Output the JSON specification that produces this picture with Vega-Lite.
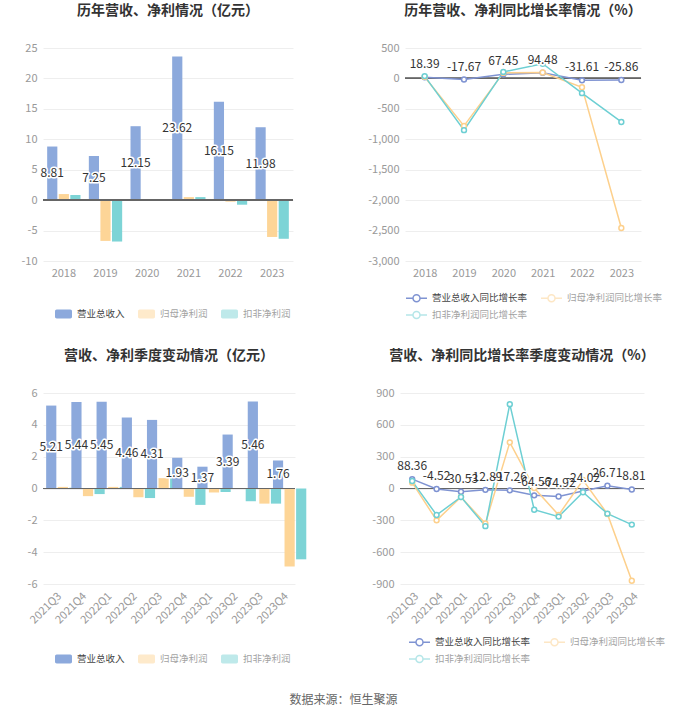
{
  "$schema": "https://vega.github.io/schema/vega-lite/v6.json",
  "background": "white",
  "padding": {"left": 20, "top": 4, "right": 0, "bottom": 0},
  "title": {"text": "数据来源：恒生聚源", "orient": "bottom", "anchor": "middle", "fontSize": 12, "fontWeight": "normal", "color": "#666666", "offset": 29},
  "spacing": 27,
  "resolve": {"scale": {"color": "independent"}, "legend": {"color": "independent"}},
  "vconcat": [
    {
      "hconcat": [
        {
          "width": 250,
          "height": 213,
          "title": {"text": "历年营收、净利情况（亿元）", "offset": 24},
          "data": {"values": [
            {"year": "2018", "series": "营业总收入", "value": 8.81},
            {"year": "2018", "series": "归母净利润", "value": 1.0},
            {"year": "2018", "series": "扣非净利润", "value": 0.85},
            {"year": "2019", "series": "营业总收入", "value": 7.25},
            {"year": "2019", "series": "归母净利润", "value": -6.7},
            {"year": "2019", "series": "扣非净利润", "value": -6.8},
            {"year": "2020", "series": "营业总收入", "value": 12.15},
            {"year": "2020", "series": "归母净利润", "value": 0.12},
            {"year": "2020", "series": "扣非净利润", "value": 0.1},
            {"year": "2021", "series": "营业总收入", "value": 23.62},
            {"year": "2021", "series": "归母净利润", "value": 0.5},
            {"year": "2021", "series": "扣非净利润", "value": 0.5},
            {"year": "2022", "series": "营业总收入", "value": 16.15},
            {"year": "2022", "series": "归母净利润", "value": -0.25},
            {"year": "2022", "series": "扣非净利润", "value": -0.75},
            {"year": "2023", "series": "营业总收入", "value": 11.98},
            {"year": "2023", "series": "归母净利润", "value": -6.05},
            {"year": "2023", "series": "扣非净利润", "value": -6.35}
          ]},
          "encoding": {
            "x": {"field": "year", "type": "ordinal", "scale": {"paddingInner": 0.2, "paddingOuter": 0.1}, "axis": {"labelAngle": 0}},
            "xOffset": {"field": "series", "sort": ["营业总收入", "归母净利润", "扣非净利润"], "scale": {"paddingInner": 0.12}}
          },
          "resolve": {"scale": {"y": "independent"}},
          "layer": [
            {
              "mark": {"type": "bar"},
              "encoding": {
                "y": {"field": "value", "type": "quantitative", "scale": {"domain": [-10, 25], "nice": false}, "axis": {"values": [-10, -5, 0, 5, 10, 15, 20, 25], "grid": true}},
                "color": {"field": "series", "type": "nominal", "sort": ["营业总收入", "归母净利润", "扣非净利润"],
                  "scale": {"domain": ["营业总收入", "归母净利润", "扣非净利润"], "range": ["#8CA9DC", "#FDD597", "#7DD4D6"]},
                  "legend": {"title": null, "orient": "none", "legendX": 11, "legendY": 256, "direction": "horizontal",
                    "symbolType": "M-0.8,-0.53H0.8A0.2,0.2,0,0,1,1,-0.33V0.33A0.2,0.2,0,0,1,0.8,0.53H-0.8A0.2,0.2,0,0,1,-1,0.33V-0.33A0.2,0.2,0,0,1,-0.8,-0.53Z",
                    "symbolSize": 289, "labelOffset": 4, "columnPadding": 12,
                    "encode": {"symbols": {"update": {"opacity": {"signal": "datum.value === '营业总收入' ? 1 : 0.5"}}},
                               "labels": {"update": {"opacity": {"signal": "datum.value === '营业总收入' ? 1 : 0.5"}}}}}}
              }
            },
            {"mark": {"type": "rule", "color": "#666666", "strokeWidth": 1}, "encoding": {"y": {"datum": 0, "type": "quantitative", "scale": {"domain": [-10, 25], "nice": false}, "axis": null}, "x": null, "xOffset": null}},
            {
              "transform": [{"filter": "datum.series === '营业总收入'"}],
              "mark": {"type": "text", "fontSize": 12, "fill": "white", "stroke": "white", "strokeWidth": 3, "strokeJoin": "round"},
              "encoding": {"y": {"field": "value", "type": "quantitative", "scale": {"domain": [-20, 50], "nice": false}, "axis": null}, "text": {"field": "value", "type": "quantitative", "format": ".2f"}}
            },
            {
              "transform": [{"filter": "datum.series === '营业总收入'"}],
              "mark": {"type": "text", "fontSize": 12, "fill": "#333333"},
              "encoding": {"y": {"field": "value", "type": "quantitative", "scale": {"domain": [-20, 50], "nice": false}, "axis": null}, "text": {"field": "value", "type": "quantitative", "format": ".2f"}}
            }
          ]
        },
        {
          "width": 236,
          "height": 213,
          "title": {"text": "历年营收、净利同比增长率情况（%）", "offset": 24},
          "data": {"values": [
            {"year": "2018", "series": "营业总收入同比增长率", "value": 18.39},
            {"year": "2019", "series": "营业总收入同比增长率", "value": -17.67},
            {"year": "2020", "series": "营业总收入同比增长率", "value": 67.45},
            {"year": "2021", "series": "营业总收入同比增长率", "value": 94.48},
            {"year": "2022", "series": "营业总收入同比增长率", "value": -31.61},
            {"year": "2023", "series": "营业总收入同比增长率", "value": -25.86},
            {"year": "2018", "series": "归母净利润同比增长率", "value": 25},
            {"year": "2019", "series": "归母净利润同比增长率", "value": -780},
            {"year": "2020", "series": "归母净利润同比增长率", "value": 91},
            {"year": "2021", "series": "归母净利润同比增长率", "value": 97},
            {"year": "2022", "series": "归母净利润同比增长率", "value": -145},
            {"year": "2023", "series": "归母净利润同比增长率", "value": -2457},
            {"year": "2018", "series": "扣非净利润同比增长率", "value": 38},
            {"year": "2019", "series": "扣非净利润同比增长率", "value": -850},
            {"year": "2020", "series": "扣非净利润同比增长率", "value": 107},
            {"year": "2021", "series": "扣非净利润同比增长率", "value": 242},
            {"year": "2022", "series": "扣非净利润同比增长率", "value": -242},
            {"year": "2023", "series": "扣非净利润同比增长率", "value": -715}
          ]},
          "encoding": {
            "x": {"field": "year", "type": "ordinal", "axis": {"labelAngle": 0}},
            "y": {"field": "value", "type": "quantitative", "scale": {"domain": [-3000, 500], "nice": false}, "axis": {"values": [-3000, -2500, -2000, -1500, -1000, -500, 0, 500], "format": ",.0f", "grid": true}}
          },
          "layer": [
            {"mark": {"type": "rule", "color": "#666666", "strokeWidth": 1}, "encoding": {"y": {"datum": 0, "type": "quantitative"}, "x": null}},
            {
              "mark": {"type": "line", "strokeWidth": 1.5},
              "encoding": {
                "color": {"field": "series", "type": "nominal", "sort": ["营业总收入同比增长率", "归母净利润同比增长率", "扣非净利润同比增长率"],
                  "scale": {"domain": ["营业总收入同比增长率", "归母净利润同比增长率", "扣非净利润同比增长率"], "range": ["#7F93D2", "#FDD08C", "#6DCFD3"]},
                  "legend": {"title": null, "orient": "none", "legendX": 0, "legendY": 242, "direction": "horizontal", "columns": 2,
                    "symbolType": "M-1,0H0M1,0H2M1,0A0.5,0.5,0,1,1,0,0A0.5,0.5,0,1,1,1,0",
                    "symbolSize": 196, "symbolFillColor": "white", "symbolStrokeWidth": 1.5, "labelOffset": 11, "columnPadding": 10, "rowPadding": 2,
                    "encode": {"symbols": {"update": {"opacity": {"signal": "datum.value === '营业总收入同比增长率' ? 1 : 0.5"}}},
                               "labels": {"update": {"opacity": {"signal": "datum.value === '营业总收入同比增长率' ? 1 : 0.5"}}}}}}
              }
            },
            {
              "mark": {"type": "point", "filled": false, "fill": "white", "size": 24, "strokeWidth": 1.5, "opacity": 1},
              "encoding": {"color": {"field": "series", "type": "nominal", "sort": ["营业总收入同比增长率", "归母净利润同比增长率", "扣非净利润同比增长率"]}}
            },
            {
              "transform": [{"filter": "datum.series === '营业总收入同比增长率'"}],
              "mark": {"type": "text", "fontSize": 12, "dy": -13, "fill": "white", "stroke": "white", "strokeWidth": 3, "strokeJoin": "round"},
              "encoding": {"text": {"field": "value", "type": "quantitative", "format": ".2f"}}
            },
            {
              "transform": [{"filter": "datum.series === '营业总收入同比增长率'"}],
              "mark": {"type": "text", "fontSize": 12, "dy": -13, "fill": "#333333"},
              "encoding": {"text": {"field": "value", "type": "quantitative", "format": ".2f"}}
            }
          ]
        }
      ],
      "spacing": 73,
      "resolve": {"scale": {"color": "independent"}, "legend": {"color": "independent"}}
    },
    {
      "hconcat": [
        {
          "width": 252,
          "height": 191,
          "title": {"text": "营收、净利季度变动情况（亿元）", "offset": 24},
          "data": {"values": [
            {"q": "2021Q3", "series": "营业总收入", "value": 5.21},
            {"q": "2021Q3", "series": "归母净利润", "value": 0.1},
            {"q": "2021Q3", "series": "扣非净利润", "value": 0.05},
            {"q": "2021Q4", "series": "营业总收入", "value": 5.44},
            {"q": "2021Q4", "series": "归母净利润", "value": -0.48},
            {"q": "2021Q4", "series": "扣非净利润", "value": -0.35},
            {"q": "2022Q1", "series": "营业总收入", "value": 5.45},
            {"q": "2022Q1", "series": "归母净利润", "value": 0.1},
            {"q": "2022Q1", "series": "扣非净利润", "value": 0.1},
            {"q": "2022Q2", "series": "营业总收入", "value": 4.46},
            {"q": "2022Q2", "series": "归母净利润", "value": -0.55},
            {"q": "2022Q2", "series": "扣非净利润", "value": -0.6},
            {"q": "2022Q3", "series": "营业总收入", "value": 4.31},
            {"q": "2022Q3", "series": "归母净利润", "value": 0.65},
            {"q": "2022Q3", "series": "扣非净利润", "value": 0.65},
            {"q": "2022Q4", "series": "营业总收入", "value": 1.93},
            {"q": "2022Q4", "series": "归母净利润", "value": -0.52},
            {"q": "2022Q4", "series": "扣非净利润", "value": -1.03},
            {"q": "2023Q1", "series": "营业总收入", "value": 1.37},
            {"q": "2023Q1", "series": "归母净利润", "value": -0.25},
            {"q": "2023Q1", "series": "扣非净利润", "value": -0.22},
            {"q": "2023Q2", "series": "营业总收入", "value": 3.39},
            {"q": "2023Q2", "series": "归母净利润", "value": -0.03},
            {"q": "2023Q2", "series": "扣非净利润", "value": -0.8},
            {"q": "2023Q3", "series": "营业总收入", "value": 5.46},
            {"q": "2023Q3", "series": "归母净利润", "value": -0.95},
            {"q": "2023Q3", "series": "扣非净利润", "value": -0.95},
            {"q": "2023Q4", "series": "营业总收入", "value": 1.76},
            {"q": "2023Q4", "series": "归母净利润", "value": -4.9},
            {"q": "2023Q4", "series": "扣非净利润", "value": -4.45}
          ]},
          "encoding": {
            "x": {"field": "q", "type": "ordinal", "scale": {"paddingInner": 0.25, "paddingOuter": 0.125}, "axis": {"labelAngle": -45}},
            "xOffset": {"field": "series", "sort": ["营业总收入", "归母净利润", "扣非净利润"], "scale": {"paddingInner": 0.1}}
          },
          "resolve": {"scale": {"y": "independent"}},
          "layer": [
            {
              "mark": {"type": "bar"},
              "encoding": {
                "y": {"field": "value", "type": "quantitative", "scale": {"domain": [-6, 6], "nice": false}, "axis": {"values": [-6, -4, -2, 0, 2, 4, 6], "grid": true}},
                "color": {"field": "series", "type": "nominal", "sort": ["营业总收入", "归母净利润", "扣非净利润"],
                  "scale": {"domain": ["营业总收入", "归母净利润", "扣非净利润"], "range": ["#8CA9DC", "#FDD597", "#7DD4D6"]},
                  "legend": {"title": null, "orient": "none", "legendX": 11, "legendY": 256, "direction": "horizontal",
                    "symbolType": "M-0.8,-0.53H0.8A0.2,0.2,0,0,1,1,-0.33V0.33A0.2,0.2,0,0,1,0.8,0.53H-0.8A0.2,0.2,0,0,1,-1,0.33V-0.33A0.2,0.2,0,0,1,-0.8,-0.53Z",
                    "symbolSize": 289, "labelOffset": 4, "columnPadding": 12,
                    "encode": {"symbols": {"update": {"opacity": {"signal": "datum.value === '营业总收入' ? 1 : 0.5"}}},
                               "labels": {"update": {"opacity": {"signal": "datum.value === '营业总收入' ? 1 : 0.5"}}}}}}
              }
            },
            {"mark": {"type": "rule", "color": "#666666", "strokeWidth": 1}, "encoding": {"y": {"datum": 0, "type": "quantitative", "scale": {"domain": [-6, 6], "nice": false}, "axis": null}, "x": null, "xOffset": null}},
            {
              "transform": [{"filter": "datum.series === '营业总收入'"}],
              "mark": {"type": "text", "fontSize": 12, "fill": "white", "stroke": "white", "strokeWidth": 3, "strokeJoin": "round"},
              "encoding": {"y": {"field": "value", "type": "quantitative", "scale": {"domain": [-12, 12], "nice": false}, "axis": null}, "text": {"field": "value", "type": "quantitative", "format": ".2f"}}
            },
            {
              "transform": [{"filter": "datum.series === '营业总收入'"}],
              "mark": {"type": "text", "fontSize": 12, "fill": "#333333"},
              "encoding": {"y": {"field": "value", "type": "quantitative", "scale": {"domain": [-12, 12], "nice": false}, "axis": null}, "text": {"field": "value", "type": "quantitative", "format": ".2f"}}
            }
          ]
        },
        {
          "width": 244,
          "height": 191,
          "title": {"text": "营收、净利同比增长率季度变动情况（%）", "offset": 24},
          "data": {"values": [
            {"q": "2021Q3", "series": "营业总收入同比增长率", "value": 88.36},
            {"q": "2021Q4", "series": "营业总收入同比增长率", "value": -4.52},
            {"q": "2022Q1", "series": "营业总收入同比增长率", "value": -30.53},
            {"q": "2022Q2", "series": "营业总收入同比增长率", "value": -12.89},
            {"q": "2022Q3", "series": "营业总收入同比增长率", "value": -17.26},
            {"q": "2022Q4", "series": "营业总收入同比增长率", "value": -64.56},
            {"q": "2023Q1", "series": "营业总收入同比增长率", "value": -74.92},
            {"q": "2023Q2", "series": "营业总收入同比增长率", "value": -24.02},
            {"q": "2023Q3", "series": "营业总收入同比增长率", "value": 26.71},
            {"q": "2023Q4", "series": "营业总收入同比增长率", "value": -8.81},
            {"q": "2021Q3", "series": "归母净利润同比增长率", "value": 55},
            {"q": "2021Q4", "series": "归母净利润同比增长率", "value": -300},
            {"q": "2022Q1", "series": "归母净利润同比增长率", "value": -80},
            {"q": "2022Q2", "series": "归母净利润同比增长率", "value": -330},
            {"q": "2022Q3", "series": "归母净利润同比增长率", "value": 435},
            {"q": "2022Q4", "series": "归母净利润同比增长率", "value": 5},
            {"q": "2023Q1", "series": "归母净利润同比增长率", "value": -250},
            {"q": "2023Q2", "series": "归母净利润同比增长率", "value": 80},
            {"q": "2023Q3", "series": "归母净利润同比增长率", "value": -240},
            {"q": "2023Q4", "series": "归母净利润同比增长率", "value": -870},
            {"q": "2021Q3", "series": "扣非净利润同比增长率", "value": 70},
            {"q": "2021Q4", "series": "扣非净利润同比增长率", "value": -250},
            {"q": "2022Q1", "series": "扣非净利润同比增长率", "value": -80},
            {"q": "2022Q2", "series": "扣非净利润同比增长率", "value": -355},
            {"q": "2022Q3", "series": "扣非净利润同比增长率", "value": 795},
            {"q": "2022Q4", "series": "扣非净利润同比增长率", "value": -200},
            {"q": "2023Q1", "series": "扣非净利润同比增长率", "value": -265},
            {"q": "2023Q2", "series": "扣非净利润同比增长率", "value": -35},
            {"q": "2023Q3", "series": "扣非净利润同比增长率", "value": -237},
            {"q": "2023Q4", "series": "扣非净利润同比增长率", "value": -340}
          ]},
          "encoding": {
            "x": {"field": "q", "type": "ordinal", "axis": {"labelAngle": -45}},
            "y": {"field": "value", "type": "quantitative", "scale": {"domain": [-900, 900], "nice": false}, "axis": {"values": [-900, -600, -300, 0, 300, 600, 900], "grid": true}}
          },
          "layer": [
            {"mark": {"type": "rule", "color": "#666666", "strokeWidth": 1}, "encoding": {"y": {"datum": 0, "type": "quantitative"}, "x": null}},
            {
              "mark": {"type": "line", "strokeWidth": 1.5},
              "encoding": {
                "color": {"field": "series", "type": "nominal", "sort": ["营业总收入同比增长率", "归母净利润同比增长率", "扣非净利润同比增长率"],
                  "scale": {"domain": ["营业总收入同比增长率", "归母净利润同比增长率", "扣非净利润同比增长率"], "range": ["#7F93D2", "#FDD08C", "#6DCFD3"]},
                  "legend": {"title": null, "orient": "none", "legendX": 8, "legendY": 241, "direction": "horizontal", "columns": 2,
                    "symbolType": "M-1,0H0M1,0H2M1,0A0.5,0.5,0,1,1,0,0A0.5,0.5,0,1,1,1,0",
                    "symbolSize": 196, "symbolFillColor": "white", "symbolStrokeWidth": 1.5, "labelOffset": 11, "columnPadding": 10, "rowPadding": 2,
                    "encode": {"symbols": {"update": {"opacity": {"signal": "datum.value === '营业总收入同比增长率' ? 1 : 0.5"}}},
                               "labels": {"update": {"opacity": {"signal": "datum.value === '营业总收入同比增长率' ? 1 : 0.5"}}}}}}
              }
            },
            {
              "mark": {"type": "point", "filled": false, "fill": "white", "size": 24, "strokeWidth": 1.5, "opacity": 1},
              "encoding": {"color": {"field": "series", "type": "nominal", "sort": ["营业总收入同比增长率", "归母净利润同比增长率", "扣非净利润同比增长率"]}}
            },
            {
              "transform": [{"filter": "datum.series === '营业总收入同比增长率'"}],
              "mark": {"type": "text", "fontSize": 12, "dy": -13, "fill": "white", "stroke": "white", "strokeWidth": 3, "strokeJoin": "round"},
              "encoding": {"text": {"field": "value", "type": "quantitative", "format": ".2f"}}
            },
            {
              "transform": [{"filter": "datum.series === '营业总收入同比增长率'"}],
              "mark": {"type": "text", "fontSize": 12, "dy": -13, "fill": "#333333"},
              "encoding": {"text": {"field": "value", "type": "quantitative", "format": ".2f"}}
            }
          ]
        }
      ],
      "spacing": 64,
      "resolve": {"scale": {"color": "independent"}, "legend": {"color": "independent"}}
    }
  ],
  "config": {
    "font": "Noto Sans CJK SC",
    "view": {"stroke": null},
    "axis": {"labelColor": "#999999", "labelFontSize": 11, "gridColor": "#eeeeee", "domain": false, "ticks": false, "title": null, "labelPadding": 6},
    "title": {"fontSize": 14, "fontWeight": "bold", "color": "#333333", "anchor": "middle"},
    "legend": {"labelFontSize": 9.5, "labelColor": "#444444", "padding": 0, "title": null},
    "locale": {"number": {"decimal": ".", "thousands": ",", "grouping": [3], "currency": ["", ""], "minus": "-"}}
  }
}
